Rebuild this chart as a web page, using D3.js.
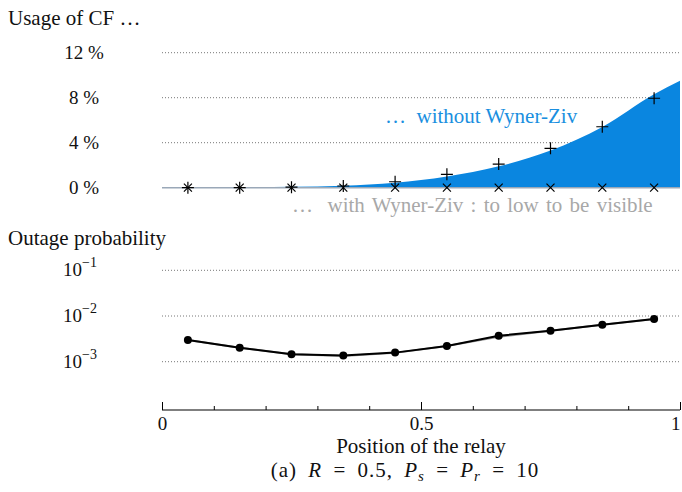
<!DOCTYPE html>
<html>
<head>
<meta charset="utf-8">
<script src="https://cdnjs.cloudflare.com/ajax/libs/d3/7.8.5/d3.min.js"></script>
<style>
  body { margin: 0; background: #fff; }
  text { font-family: "Liberation Serif", "Times New Roman", serif; fill: #111; white-space: pre; }
  .grid line { stroke: #777; stroke-width: 1; stroke-dasharray: 1 2; }
</style>
</head>
<body>
<svg id="chart" width="682" height="492"></svg>
<script>
// relay positions where the markers sit
var positions = [0.05, 0.15, 0.25, 0.35, 0.45, 0.55, 0.65, 0.75, 0.85, 0.95];

// usage of CF (%) without Wyner-Ziv, markers
var cfNoWZ = [0, 0, 0.05, 0.15, 0.53, 1.19, 2.1, 3.5, 5.42, 7.95];
// usage of CF (%) with Wyner-Ziv, markers
var cfWZ = [0, 0, 0, 0, 0, 0, 0, 0, 0, 0];

// filled area (without Wyner-Ziv)
var areaPos = [0, 0.05, 0.15, 0.25, 0.35, 0.45, 0.55, 0.65, 0.75, 0.85, 0.95, 1.0];
var areaVal = [0, 0.01, 0.03, 0.08, 0.18, 0.45, 1.0, 1.9, 3.3, 5.4, 8.3, 9.5];

var usageTicks = [0, 4, 8, 12];

// outage probability
var outageBlack = [3.0e-3, 2.03e-3, 1.45e-3, 1.36e-3, 1.58e-3, 2.21e-3, 3.7e-3, 4.77e-3, 6.45e-3, 8.6e-3];
var outageGray = [3.0e-3, 2.03e-3, 1.45e-3, 1.33e-3, 1.56e-3, 2.2e-3, 3.5e-3, 4.77e-3, 6.45e-3, 8.6e-3];
var outageTicks = [1e-1, 1e-2, 1e-3];

var xTicksMajor = [0, 0.5, 1];
var xTicksMinor = [0.1, 0.2, 0.3, 0.4, 0.6, 0.7, 0.8, 0.9];

var svg = d3.select("#chart");

var xScale = d3.scaleLinear().domain([0, 1]).range([162, 680]);
var yUsage = d3.scaleLinear().domain([0, 12]).range([187.7, 52.7]);
var yOut = d3.scaleLog().domain([1e-4, 1e-1]).range([407.4, 270.3]);

// ---------- top panel ----------
svg.append("text")
    .attr("x", 8).attr("y", 25)
    .style("font-size", "21px")
    .text("Usage of CF \u2026");

var gridTop = svg.append("g").attr("class", "grid");
gridTop.selectAll("line")
    .data(usageTicks.filter(function(d){ return d > 0; }))
    .enter().append("line")
    .attr("x1", xScale(0)).attr("x2", xScale(1))
    .attr("y1", function(d){ return yUsage(d); })
    .attr("y2", function(d){ return yUsage(d); });

svg.append("g").selectAll("text")
    .data(usageTicks)
    .enter().append("text")
    .attr("x", 84)
    .attr("y", function(d){ return yUsage(d) + 6; })
    .attr("text-anchor", "middle")
    .style("font-size", "19px")
    .text(function(d){ return d + " %"; });

var area = d3.area()
    .x(function(d, i){ return xScale(areaPos[i]); })
    .y0(yUsage(0))
    .y1(function(d){ return yUsage(d); })
    .curve(d3.curveMonotoneX);

svg.append("path")
    .datum(areaVal)
    .attr("d", area)
    .attr("fill", "#0a86e0");

// zero line (with Wyner-Ziv, too small to see)
svg.append("line")
    .attr("x1", xScale(0)).attr("x2", xScale(1))
    .attr("y1", yUsage(0)).attr("y2", yUsage(0))
    .attr("stroke", "#9aa8b8")
    .attr("stroke-width", 1.5);

// x markers
svg.append("g").selectAll("path")
    .data(cfWZ)
    .enter().append("path")
    .attr("d", function(d, i){
        var cx = xScale(positions[i]), cy = yUsage(d), s = 4;
        return "M" + (cx - s) + "," + (cy - s) + "L" + (cx + s) + "," + (cy + s) +
               "M" + (cx - s) + "," + (cy + s) + "L" + (cx + s) + "," + (cy - s);
    })
    .attr("stroke", "#000").attr("stroke-width", 1.2).attr("fill", "none");

// + markers
svg.append("g").selectAll("path")
    .data(cfNoWZ)
    .enter().append("path")
    .attr("d", function(d, i){
        var cx = xScale(positions[i]), cy = yUsage(d), s = 6;
        return "M" + (cx - s) + "," + cy + "L" + (cx + s) + "," + cy +
               "M" + cx + "," + (cy - s) + "L" + cx + "," + (cy + s);
    })
    .attr("stroke", "#000").attr("stroke-width", 1.2).attr("fill", "none");

svg.append("text")
    .attr("x", 385).attr("y", 123)
    .style("font-size", "21px")
    .style("fill", "#1a8fe0")
    .text("\u2026  without Wyner-Ziv");

svg.append("text")
    .attr("x", 292).attr("y", 212)
    .style("font-size", "21px")
    .style("word-spacing", "2px")
    .style("fill", "#a8a8a8")
    .text("\u2026  with Wyner-Ziv : to low to be visible");

// ---------- bottom panel ----------
svg.append("text")
    .attr("x", 8).attr("y", 245)
    .style("font-size", "21px")
    .text("Outage probability");

var gridBot = svg.append("g").attr("class", "grid");
gridBot.selectAll("line")
    .data(outageTicks)
    .enter().append("line")
    .attr("x1", xScale(0)).attr("x2", xScale(1))
    .attr("y1", function(d){ return yOut(d); })
    .attr("y2", function(d){ return yOut(d); });

var outLabels = svg.append("g").selectAll("text")
    .data(outageTicks)
    .enter().append("text")
    .attr("x", 63)
    .attr("y", function(d){ return yOut(d) + 6; })
    .style("font-size", "19px");
outLabels.append("tspan").text("10");
outLabels.append("tspan")
    .attr("dy", -9)
    .style("font-size", "14px")
    .text(function(d){ return "\u2212" + Math.round(-Math.log10(d)); });

var line = d3.line()
    .x(function(d, i){ return xScale(positions[i]); })
    .y(function(d){ return yOut(d); });

svg.append("path")
    .datum(outageGray)
    .attr("d", line)
    .attr("fill", "none")
    .attr("stroke", "#999")
    .attr("stroke-width", 2);

svg.append("path")
    .datum(outageBlack)
    .attr("d", line)
    .attr("fill", "none")
    .attr("stroke", "#000")
    .attr("stroke-width", 2);

svg.append("g").selectAll("circle")
    .data(outageBlack)
    .enter().append("circle")
    .attr("cx", function(d, i){ return xScale(positions[i]); })
    .attr("cy", function(d){ return yOut(d); })
    .attr("r", 4)
    .attr("fill", "#000");

// x axis
var axisY = 410;
svg.append("g")
    .attr("transform", "translate(0," + axisY + ")")
    .call(d3.axisTop(xScale).tickValues(xTicksMinor).tickSize(4).tickFormat(""))
    .call(function(g){ g.select(".domain").remove(); })
    .selectAll("line").attr("stroke", "#000");

svg.append("g")
    .attr("class", "x-axis")
    .attr("transform", "translate(0," + axisY + ")")
    .call(d3.axisTop(xScale).tickValues(xTicksMajor).tickSizeInner(8).tickSizeOuter(0)
        .tickFormat(function(d){ return d; }))
    .call(function(g){
        g.select(".domain").attr("stroke", "#000").attr("stroke-width", 1.2)
            .attr("d", "M" + xScale(0) + ",0H" + xScale(1));
        g.selectAll("line").attr("stroke", "#000");
        g.selectAll("text")
            .attr("y", 20)
            .style("font-size", "19px")
            .style("font-family", "Liberation Serif, serif")
            .attr("fill", "#111");
        g.selectAll(".tick:last-of-type text").attr("text-anchor", "end").attr("dx", 0);
    });

svg.append("text")
    .attr("x", 421).attr("y", 453)
    .attr("text-anchor", "middle")
    .style("font-size", "21px")
    .text("Position of the relay");

var cap = svg.append("text")
    .attr("x", 405).attr("y", 477)
    .attr("text-anchor", "middle")
    .style("font-size", "21px")
    .style("word-spacing", "5px")
    .style("letter-spacing", "1px");
cap.append("tspan").text("(a) ");
cap.append("tspan").style("font-style", "italic").text("R");
cap.append("tspan").text(" = 0.5, ");
cap.append("tspan").style("font-style", "italic").text("P");
cap.append("tspan").attr("dy", 4).style("font-size", "15px").style("font-style", "italic").text("s");
cap.append("tspan").attr("dy", -4).text(" = ");
cap.append("tspan").style("font-style", "italic").text("P");
cap.append("tspan").attr("dy", 4).style("font-size", "15px").style("font-style", "italic").text("r");
cap.append("tspan").attr("dy", -4).text(" = 10");
</script>
</body>
</html>
